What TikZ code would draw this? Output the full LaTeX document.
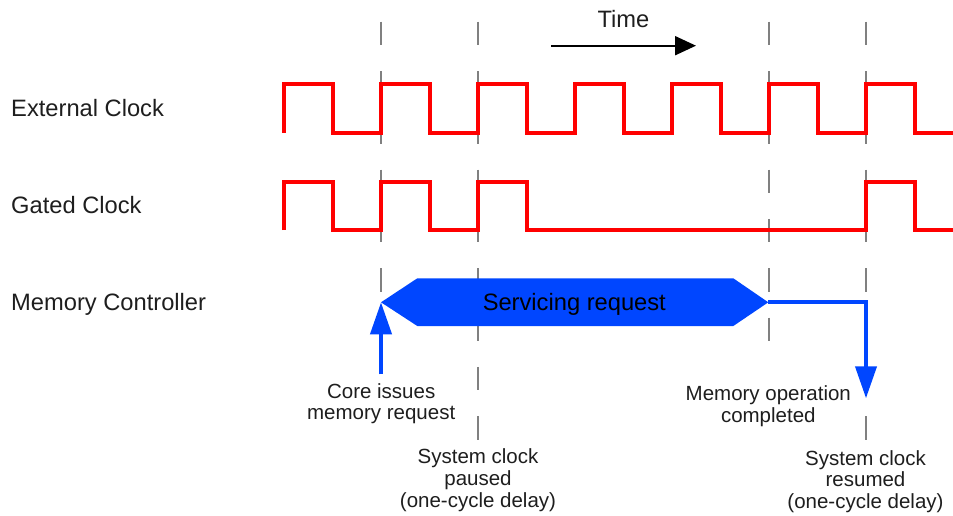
\documentclass[tikz,border=0pt]{standalone}
\usepackage{fontspec}
\setmainfont{Liberation Sans}
\usetikzlibrary{arrows.meta}
\definecolor{clk}{RGB}{255,0,0}
\definecolor{mem}{RGB}{0,70,255}
\definecolor{guide}{RGB}{128,128,128}
\definecolor{ink}{RGB}{30,30,30}

\begin{document}
\begin{tikzpicture}[x=1pt,y=-1pt,
  wave/.style={draw=clk,line width=4pt,line join=miter},
  guideline/.style={draw=guide,line width=2pt,dash pattern=on 23.5pt off 25.8pt},
  rowlabel/.style={anchor=base west,inner sep=0pt,text=ink,font=\fontsize{23.7}{28}\selectfont},
  note/.style={anchor=base,inner sep=0pt,text=ink,font=\fontsize{20.5}{24}\selectfont},
  memarrow/.style={draw=mem,line width=4pt,-{Triangle[length=32pt,width=21pt]}}
]
\useasboundingbox (0,0) rectangle (953,515);

% cycle markers
\draw[guideline] (381,21.7) -- (381,291.7);
\draw[guideline] (478,21.7) -- (478,439.6);
\draw[guideline] (769,21.7) -- (769,341);
\draw[guideline] (866,21.7) -- (866,439.6);

% time direction
\coordinate (timeA) at (551,45.7);
\coordinate (timeB) at (696,45.7);
\draw[line width=2pt,-{Triangle[length=21pt,width=19pt]}] (timeA) -- (timeB);
\node[rowlabel,anchor=base] (time) at (623.5,27) {Time};

% row labels
\node[rowlabel] (extlbl) at (11,116.7) {External Clock};
\node[rowlabel] (gatelbl) at (11,213.3) {Gated Clock};
\node[rowlabel] (memlbl) at (11,310.7) {Memory Controller};

% external clock: free running
\draw[wave] (284,132.5)
  \foreach \r in {284,381,478,575,672,769,866} {
    -- (\r,132.5) -- (\r,84) -- ({\r+48.5},84) -- ({\r+48.5},132.5)
  } -- (953,132.5);

% gated clock: stopped while the request is serviced
\draw[wave] (284,230) -- (284,181.7) -- (332.5,181.7) -- (332.5,230)
  -- (381,230) -- (381,181.7) -- (429.5,181.7) -- (429.5,230)
  -- (478,230) -- (478,181.7) -- (526.5,181.7) -- (526.5,230)
  -- (866,230) -- (866,181.7) -- (914.5,181.7) -- (914.5,230)
  -- (953,230);

% memory controller activity
\coordinate (reqL) at (381,302.3);
\coordinate (reqR) at (768.3,302.3);
\fill[mem] (reqL) -- (417.3,278.3) -- (733.3,278.3) -- (reqR)
  -- (733.3,326) -- (417.3,326) -- cycle;
\node[anchor=base,inner sep=0pt,text=black,font=\fontsize{23.7}{28}\selectfont]
  (svc) at (574.3,310) {Servicing request};

\coordinate (coreSrc) at (381,374.3);
\coordinate (resumeTip) at (866,398.3);
\draw[memarrow] (coreSrc) -- (reqL);
\draw[memarrow] (reqR) -| (resumeTip);

% annotations
\node[note] (core1) at (381.2,398.3) {Core issues};
\node[note] (core2) at (381.2,419.3) {memory request};

\node[note] (pause1) at (478,463.8) {System clock};
\node[note] (pause2) at (478,485.7) {paused};
\node[note] (pause3) at (478,507.5) {(one-cycle delay)};

\node[note] (done1) at (768.3,400) {Memory operation};
\node[note] (done2) at (768.3,422.3) {completed};

\node[note] (res1) at (865.5,465) {System clock};
\node[note] (res2) at (865.5,486.7) {resumed};
\node[note] (res3) at (865.5,508) {(one-cycle delay)};
\end{tikzpicture}
\end{document}
